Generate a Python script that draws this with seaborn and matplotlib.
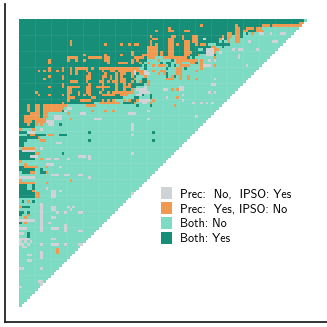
import numpy as np
import matplotlib
matplotlib.use("Agg")
import matplotlib.pyplot as plt
from matplotlib.colors import ListedColormap
from matplotlib.patches import Patch
import seaborn as sns

N = 108
labels = ["Prec:  No,  IPSO: Yes", "Prec:  Yes, IPSO: No", "Both: No", "Both: Yes"]
colors = ["#cfd3d5", "#ef9a50", "#7ddac3", "#178f78"]

# (first column, last column, number of dark rows from the top)
frontier = [(0, 5, 41), (6, 9, 38), (10, 16, 35), (17, 27, 32), (28, 34, 31), (35, 38, 30),
            (39, 42, 29), (43, 47, 24), (48, 66, 14), (67, 70, 13), (71, 73, 12), (74, 78, 10),
            (79, 83, 7), (84, 90, 5), (91, 96, 3), (97, 104, 3), (105, 106, 2), (107, 107, 0)]

orange_rows = {
    1: [105, 106], 2: [68, 81, 91, 92, 93, 95, 96, 97, 98, 99, 100, 101, 102, 103, 104, 105],
    3: [56, 81, 82, 85, 86, 87, 89, 90], 4: [51, 56, 57, 62, 63, 81, 82, 84, 85, 89, 90, 91],
    5: [78, 79, 81, 82, 87], 6: [49, 57, 58, 61, 65, 66, 76, 78, 79, 81, 82],
    7: [50, 51, 56, 57, 61, 65, 66, 75, 76, 78, 81, 82], 8: [19, 49, 56, 57, 62, 63, 65, 66, 78, 81, 82],
    9: [19, 32, 38, 41, 43, 44, 49, 51, 56, 57, 59, 62, 63, 66, 68, 69],
    10: [48, 49, 50, 51, 56, 57, 62, 63, 72, 73], 11: [48, 49, 50, 51, 56, 57, 62, 63, 72, 73, 74],
    12: [42, 48, 49, 50, 51, 53, 56, 57, 62, 63, 64, 72, 73], 13: [24, 32, 38, 42, 46, 47, 48, 49, 50, 51, 53, 56, 57, 62, 63, 67],
    14: [18, 19, 20, 21, 26, 27, 28, 29, 30, 32, 33, 43, 44, 45, 46, 48, 49, 50, 54, 55, 56, 57, 58, 59, 60, 61, 62, 73],
    15: [11, 18, 21, 24, 32, 33, 42, 44, 52, 59, 60, 61, 62, 63, 64, 65, 66, 68],
    16: [11, 33, 37, 38, 39, 40, 42, 45, 48, 59, 60, 64, 65, 68],
    17: [50, 52, 53, 54, 60, 61, 62, 63, 68, 69, 73], 18: [11, 16, 19, 21, 22, 23, 24, 25, 27, 30, 31, 32, 33, 34, 35, 36, 37, 38, 39, 40, 41, 42, 43, 44, 59, 60, 68],
    19: [7, 9, 11, 14, 16, 19, 21, 25, 31, 34, 35, 37, 38, 39, 40, 41, 42, 44, 45, 46, 50, 53, 54, 59, 60, 66],
    20: [19, 21, 26, 32, 36, 38, 39, 42, 45, 46, 52, 54, 59, 60],
    21: [11, 16, 25, 26, 31, 32, 34, 36, 38, 42, 47, 57, 60, 63],
    22: [9, 16, 25, 26, 31, 34, 36, 38, 39, 43, 55, 56, 57, 60, 63, 66],
    23: [19, 20, 21, 25, 30, 31, 33, 35, 36, 38, 39, 42, 45, 48], 24: [16, 26, 31, 36, 39, 41, 48],
    25: [11, 16, 18, 19, 20, 21, 22, 25, 26, 29, 30, 31, 32, 33, 36, 39, 40, 41],
    26: [18, 19, 25, 26, 31, 36, 39, 42, 57, 59], 27: [6, 18, 19, 22, 25, 26, 30, 33, 35, 36, 37, 38, 39, 40, 41, 42],
    28: [7, 11, 16, 18, 22, 24, 26, 31, 32, 33, 34, 35, 38, 39, 40], 29: [18, 19, 20, 27, 28, 59],
    30: [18, 23, 24, 25, 26, 31, 33, 35, 39, 41, 44, 50], 31: [16, 30, 31, 32, 33, 34, 35, 36, 37, 43, 49], 32: [3, 6, 7, 9, 10, 11, 12, 13, 14, 15, 16, 17, 25, 26, 27, 28, 58],
    33: [3, 6, 7, 9, 10, 11, 12, 13, 14, 15, 16], 34: [3, 6, 7, 9, 10, 11, 12, 13, 14, 15, 27, 32, 35],
    35: [4, 5, 6, 7, 9, 10, 18], 36: [2, 3, 4, 5, 6, 7, 9, 10], 37: [2, 3, 4, 5, 6, 7, 8, 9, 19],
    38: [2, 3, 4, 6, 7, 8, 9], 39: [3, 6, 8], 41: [0, 5], 43: [4, 5, 11, 12], 44: [7], 45: [8, 9],
    48: [1, 2, 3, 4, 5], 50: [6, 7], 52: [8], 53: [0], 54: [2], 55: [2, 3, 4, 5, 6, 10], 57: [4, 5, 10],
    60: [0, 19], 61: [0, 1, 2, 3, 4, 5, 10], 64: [5], 65: [6, 7], 66: [6, 7], 68: [3], 70: [0],
    73: [3], 74: [2], 76: [2], 86: [14], 87: [14],
}

gray_rows = {
    5: [90, 91, 94, 98, 99], 7: [69, 76], 8: [86, 95, 96], 11: [70, 71, 72, 80, 82, 83, 89],
    12: [70, 71, 75, 72], 13: [70, 71, 72, 82], 14: [82], 15: [71, 73], 17: [69, 70, 71, 85],
    19: [43, 47], 20: [43, 47, 48], 22: [73], 24: [72, 73], 25: [60, 61, 47], 26: [44, 45, 46, 47, 54, 55, 60, 61],
    27: [45, 46, 47, 48, 71, 73], 28: [61, 44, 45], 29: [55], 30: [45, 46, 47, 48, 61], 31: [46, 47, 65, 68, 70, 72],
    33: [18, 19], 34: [17, 48], 35: [23, 24, 41, 42, 43], 36: [13, 14, 15, 66], 37: [13, 14, 15, 28, 29, 30, 48],
    38: [10, 11, 12], 39: [42, 11, 12], 40: [42], 41: [42, 8], 42: [3, 4, 5], 43: [42], 46: [14, 15], 48: [8],
    49: [1, 2, 3, 4, 5], 50: [42], 51: [4, 5, 6, 22, 23, 24, 26], 52: [10, 11, 13, 14, 18, 26], 54: [10, 11, 12],
    55: [15], 58: [12, 13, 14, 17, 18, 22, 23], 59: [0, 1, 2, 3, 4, 5, 26], 63: [10], 64: [12, 13, 15], 65: [12, 13, 42],
    66: [12, 13], 69: [8], 70: [8, 12, 13, 18, 20], 71: [8, 12, 13, 19], 72: [8, 14, 17, 22, 23], 73: [8],
    74: [8, 12, 13], 75: [0, 1, 2, 3, 4, 5, 8], 76: [8, 11], 77: [8, 17], 78: [0, 1, 2, 8, 12, 13, 14, 17],
    79: [8, 17, 22, 23], 80: [0, 1], 82: [0, 1, 2, 3, 12, 13], 83: [0, 2, 4], 84: [0, 1, 3, 8, 12, 13, 14, 17, 22, 23],
    85: [1, 2], 87: [8], 88: [3, 4, 8], 89: [8], 90: [3, 4], 93: [0, 1, 8], 98: [7, 8], 99: [8], 100: [0],
}

dark_rows = {
    5: [85], 10: [76], 13: [73], 15: [57], 16: [53, 55, 56, 66], 17: [56, 58], 18: [55, 62],
    20: [55], 21: [55, 58], 22: [55], 33: [18], 39: [15], 42: [0, 1, 2, 26, 50], 43: [3, 4, 5, 6, 7, 8, 9, 15, 16, 17],
    44: [0, 1, 2, 3, 4, 5, 6], 45: [0, 1, 2, 26, 50], 46: [0, 1], 47: [0, 1], 49: [0], 50: [0, 1, 2, 3, 4, 5, 16],
    51: [0, 1, 2, 3], 52: [0, 1, 2, 3, 4, 5], 55: [0, 1], 56: [0, 1, 2, 3, 4, 5, 8], 57: [1, 2, 3, 8, 9],
    62: [0, 1, 2, 5], 63: [0, 1, 2, 5], 64: [0, 1, 2, 3, 4], 65: [0, 1, 2, 3, 4, 5], 66: [0, 1, 2, 3, 4, 5],
    68: [1, 5], 70: [1, 2, 3], 72: [0, 1, 3], 73: [0], 76: [0], 80: [3], 81: [3],
    24: [43, 44, 45, 46], 25: [43], 28: [46, 49], 29: [43, 44, 49], 30: [42, 43], 31: [39, 40, 41, 42],
    32: [44, 49], 14: [63, 65],
}

light_rows = {
    19: [46], 20: [43], 16: [47], 17: [46], 21: [44, 45, 46], 22: [44, 45], 23: [44], 18: [45, 46],
    6: [80], 8: [75, 77], 9: [71, 72, 73], 11: [67, 68],
    26: [43], 27: [43, 44], 28: [41, 42, 43], 29: [41, 42], 30: [40],
}

matrix = np.full((N, N), np.nan)
for r in range(N):
    matrix[r, :N - r] = 2
for first, last, depth in frontier:
    matrix[:depth, first:last + 1] = 3
for value, table in [(2, light_rows), (3, dark_rows), (1, orange_rows), (0, gray_rows)]:
    for r, cols in table.items():
        matrix[r, cols] = value
for r in range(N):
    matrix[r, N - r:] = np.nan

W = 327
left, bottom_px, top_px = 4.5, 321.5, 4.0
origin = 19.0
cell = 288 / N

fig = plt.figure(figsize=(3.27, 3.27), dpi=100)
ax = fig.add_axes([left / W, (W - bottom_px) / W, (W - left) / W, (bottom_px - top_px) / W])
sns.heatmap(matrix, ax=ax, cmap=ListedColormap(colors), vmin=-0.5, vmax=3.5, cbar=False,
            xticklabels=False, yticklabels=False, square=False, rasterized=True)

ax.set_xlim((left - origin) / cell, (W - origin) / cell)
ax.set_ylim((bottom_px - origin) / cell, (top_px - origin) / cell)
ax.set_position([left / W, (W - bottom_px) / W, (W - left) / W, (bottom_px - top_px) / W])
for side in ["top", "right"]:
    ax.spines[side].set_visible(False)
for side in ["left", "bottom"]:
    ax.spines[side].set_visible(True)
    ax.spines[side].set_color("#222222")
    ax.spines[side].set_linewidth(1.3)

# faint resampling seams that run through the cell matrix
for k in range(6, N, 6):
    ax.vlines(k, 0, N - k, color="white", alpha=0.07, lw=0.8)
    ax.hlines(k, 0, N - k, color="white", alpha=0.07, lw=0.8)

handles = [Patch(facecolor=c, edgecolor="none") for c in colors]
leg = ax.legend(handles, labels, loc="upper left",
                frameon=False, prop={"family": ["cmss10", "Lato"], "size": 8.7},
                handlelength=0.92, handleheight=1.2, handletextpad=0.66, labelspacing=0.14,
                borderpad=0, borderaxespad=0)
leg.set_bbox_to_anchor((161 / W, 1 - 187 / W), transform=fig.transFigure)
fig.savefig("out.png", dpi=100, facecolor="white")
